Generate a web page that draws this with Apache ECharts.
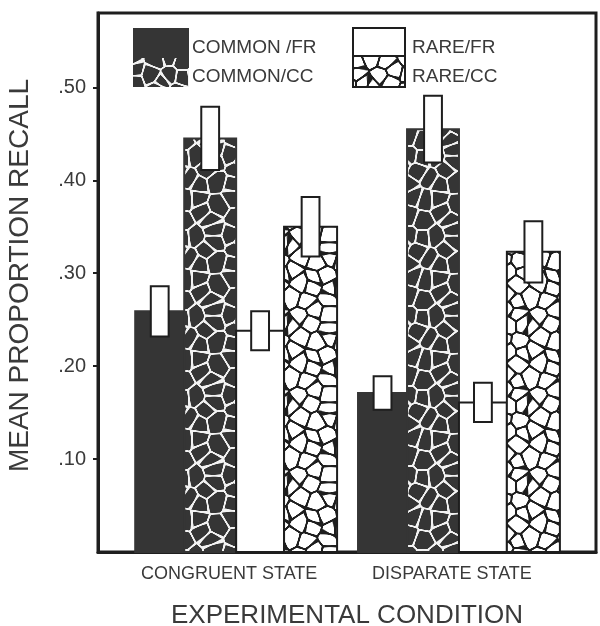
<!DOCTYPE html>
<html>
<head>
<meta charset="utf-8">
<script src="https://cdn.jsdelivr.net/npm/echarts@6/dist/echarts.min.js"></script>
<style>html,body{margin:0;padding:0;background:#fff;}#chart{width:600px;height:626px;}</style>
</head>
<body>
<div id="chart"></div>
<script>
// ---- data ----
const categories = ['CONGRUENT STATE', 'DISPARATE STATE'];
const seriesNames = ['COMMON /FR', 'COMMON/CC', 'RARE/FR', 'RARE/CC'];
const commonFR = [0.259, 0.171];
const commonFRErr = [0.027, 0.018];
const commonCC = [0.445, 0.455];
const commonCCErr = [0.034, 0.036];
const rareFR = [0.238, 0.161];
const rareFRErr = [0.021, 0.021];
const rareCC = [0.350, 0.323];
const rareCCErr = [0.032, 0.033];
const yTickLabels = ['.10', '.20', '.30', '.40', '.50'];

// ---- textures ----
function hexToRgb(h) { h = h.replace('#', ''); return [parseInt(h.substr(0,2),16), parseInt(h.substr(2,2),16), parseInt(h.substr(4,2),16)]; }
function cellPattern(tile, nx, ny, bg, fg, lw, seed) {
  const c = document.createElement('canvas'); c.width = tile; c.height = tile;
  const ctx = c.getContext('2d');
  let s = seed >>> 0;
  const rnd = () => { s = (Math.imul(s, 1664525) + 1013904223) >>> 0; return s / 4294967296; };
  const pts = []; const cw = tile / nx, ch = tile / ny;
  for (let i = 0; i < nx; i++) for (let j = 0; j < ny; j++) {
    pts.push([(i + 0.1 + 0.8 * rnd()) * cw, (j + 0.1 + 0.8 * rnd()) * ch]);
  }
  const B = hexToRgb(bg), F = hexToRgb(fg);
  const img = ctx.createImageData(tile, tile);
  for (let y = 0; y < tile; y++) for (let x = 0; x < tile; x++) {
    let d1 = 1e9, d2 = 1e9;
    for (const p of pts) for (let ox = -tile; ox <= tile; ox += tile) for (let oy = -tile; oy <= tile; oy += tile) {
      const dx = x + 0.5 - p[0] - ox, dy = y + 0.5 - p[1] - oy;
      const d = Math.sqrt(dx * dx + dy * dy);
      if (d < d1) { d2 = d1; d1 = d; } else if (d < d2) { d2 = d; }
    }
    const t = Math.min(1, Math.max(0, (d2 - d1) - lw + 0.5));
    const k = (y * tile + x) * 4;
    img.data[k] = F[0] * (1 - t) + B[0] * t;
    img.data[k+1] = F[1] * (1 - t) + B[1] * t;
    img.data[k+2] = F[2] * (1 - t) + B[2] * t;
    img.data[k+3] = 255;
  }
  ctx.putImageData(img, 0, 0);
  return c;
}
const DARK = '#353535';
const INK = '#1e1e1e';
const darkCells = cellPattern(80, 5, 5, '#353535', '#f2f2f2', 1.8, 12345);
const lightCells = cellPattern(80, 5, 6, '#ffffff', '#1e1e1e', 2.0, 987);
const fills = [
  DARK,
  { image: darkCells, repeat: 'repeat' },
  '#ffffff',
  { image: lightCells, repeat: 'repeat' }
];
const strokes = [DARK, DARK, INK, INK];
const valueSets = [commonFR, commonCC, rareFR, rareCC];
const errSets = [commonFRErr, commonCCErr, rareFRErr, rareCCErr];

// bar edges relative to group centre (x-axis units)
const edges = [-0.453, -0.233, 0.0, 0.215, 0.453];
const errW = 0.08;

function makeRender(si) {
  return function (params, api) {
    const xc = api.value(0), v = api.value(1), e = api.value(2);
    const l = api.coord([xc + edges[si], v]);
    const r = api.coord([xc + edges[si + 1], 0]);
    const mid = xc + (edges[si] + edges[si + 1]) / 2;
    const eTop = api.coord([mid - errW / 2, v + e]);
    const eBot = api.coord([mid + errW / 2, v - e]);
    return {
      type: 'group',
      children: [
        { type: 'rect', shape: { x: l[0], y: l[1], width: r[0] - l[0], height: r[1] - l[1] },
          style: { fill: fills[si], stroke: strokes[si], lineWidth: 2 } },
        { type: 'rect', shape: { x: eTop[0], y: eTop[1], width: eBot[0] - eTop[0], height: eBot[1] - eTop[1] },
          style: { fill: '#ffffff', stroke: INK, lineWidth: 2 } }
      ]
    };
  };
}

const FONT = 'Liberation Sans';
const TXT = '#3a3a3a';

const series = seriesNames.map((name, si) => ({
  name: name,
  type: 'custom',
  renderItem: makeRender(si),
  encode: { x: 0, y: 1 },
  data: categories.map((c, i) => [i + 1, valueSets[si][i], errSets[si][i]]),
  z: 2 + si
}));

const chart = echarts.init(document.getElementById('chart'), null, { renderer: 'canvas' });
chart.setOption({
  animation: false,
  backgroundColor: '#ffffff',
  grid: { left: 98, right: 4, top: 13, bottom: 74, containLabel: false, outerBoundsMode: 'none',
          show: true, borderColor: INK, borderWidth: 3, backgroundColor: 'transparent' },
  xAxis: {
    type: 'value', min: 0.38, max: 2.615,
    name: 'EXPERIMENTAL CONDITION', nameLocation: 'middle', nameGap: 51,
    nameTextStyle: { fontFamily: FONT, fontSize: 26, color: TXT },
    axisLine: { show: true, lineStyle: { color: INK, width: 3 } },
    axisTick: { show: false },
    splitLine: { show: false },
    axisLabel: {
      customValues: [1, 2],
      formatter: v => categories[Math.round(v) - 1] || '',
      fontFamily: FONT, fontSize: 18, color: TXT, margin: 13, padding: [0, 14, 0, 0]
    }
  },
  yAxis: {
    type: 'value', min: 0, max: 0.58, interval: 0.1,
    name: 'MEAN PROPORTION RECALL', nameLocation: 'middle', nameGap: 64, nameRotate: 90,
    nameTextStyle: { fontFamily: FONT, fontSize: 28, color: TXT, padding: [0, 0, 0, 14] },
    axisLine: { show: true, lineStyle: { color: INK, width: 3 } },
    axisTick: { show: true, inside: false, length: 5, lineStyle: { color: INK, width: 2 } },
    splitLine: { show: false },
    axisLabel: {
      showMaxLabel: false, showMinLabel: false,
      formatter: v => { const k = Math.round(v * 10); return k >= 1 && k <= yTickLabels.length ? yTickLabels[k - 1] : ''; },
      fontFamily: FONT, fontSize: 20, color: TXT, margin: 12
    }
  },
  graphic: [
    { type: 'rect', shape: { x: 133, y: 28, width: 56, height: 30 }, style: { fill: DARK } },
    { type: 'rect', shape: { x: 133, y: 58, width: 56, height: 29 }, style: { fill: fills[1] } },
    { type: 'rect', shape: { x: 353, y: 28, width: 52, height: 28 }, style: { fill: '#ffffff', stroke: INK, lineWidth: 2 } },
    { type: 'rect', shape: { x: 353, y: 56, width: 52, height: 31 }, style: { fill: fills[3], stroke: INK, lineWidth: 2 } },
    { type: 'text', x: 192, y: 48, style: { text: seriesNames[0], fontFamily: FONT, fontSize: 19, fill: TXT, verticalAlign: 'middle' } },
    { type: 'text', x: 192, y: 77, style: { text: seriesNames[1], fontFamily: FONT, fontSize: 19, fill: TXT, verticalAlign: 'middle' } },
    { type: 'text', x: 412, y: 48, style: { text: seriesNames[2], fontFamily: FONT, fontSize: 19, fill: TXT, verticalAlign: 'middle' } },
    { type: 'text', x: 412, y: 77, style: { text: seriesNames[3], fontFamily: FONT, fontSize: 19, fill: TXT, verticalAlign: 'middle' } }
  ],
  series: series
});
</script>
</body>
</html>
